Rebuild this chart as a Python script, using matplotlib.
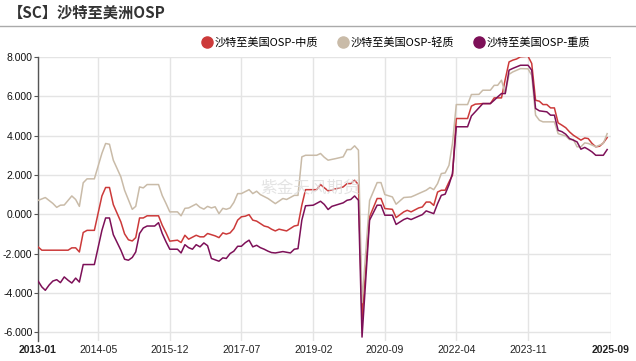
import pandas as pd
import numpy as np
import matplotlib
matplotlib.use('Agg')
import matplotlib.pyplot as plt
from matplotlib.lines import Line2D

plt.rcParams['font.family'] = ['Liberation Sans', 'Noto Sans CJK SC', 'DejaVu Sans']

# 沙特至美国OSP-轻质
light_dates = ['2013-01', '2013-03', '2013-05', '2013-06', '2013-07', '2013-08', '2013-10', '2013-11', '2013-12',
               '2014-01', '2014-02', '2014-04', '2014-06', '2014-07', '2014-08', '2014-09', '2014-11', '2014-12',
               '2015-02', '2015-03', '2015-04', '2015-05', '2015-06', '2015-09', '2015-10', '2015-11', '2015-12',
               '2016-02', '2016-03', '2016-04', '2016-05', '2016-07', '2016-08', '2016-09', '2016-10', '2016-11',
               '2016-12', '2017-01', '2017-02', '2017-03', '2017-04', '2017-05', '2017-06', '2017-07', '2017-09',
               '2017-10', '2017-11', '2017-12', '2018-02', '2018-04', '2018-06', '2018-07', '2018-09', '2018-10',
               '2018-11', '2018-12', '2019-03', '2019-04', '2019-05', '2019-06', '2019-08', '2019-10', '2019-11',
               '2019-12', '2020-01', '2020-02', '2020-03', '2020-05', '2020-07', '2020-08', '2020-09', '2020-11',
               '2020-12', '2021-02', '2021-04', '2021-05', '2021-06', '2021-08', '2021-09', '2021-10', '2021-11',
               '2021-12', '2022-01', '2022-02', '2022-03', '2022-04', '2022-07', '2022-08', '2022-10', '2022-11',
               '2023-01', '2023-02', '2023-03', '2023-04', '2023-05', '2023-06', '2023-07', '2023-09', '2023-11',
               '2023-12', '2024-01', '2024-02', '2024-03', '2024-06', '2024-07', '2024-09', '2024-10', '2024-11',
               '2024-12', '2025-01', '2025-02', '2025-03', '2025-04', '2025-05', '2025-07', '2025-08']
light_vals = [0.70, 0.85, 0.55, 0.35, 0.46, 0.47, 0.93, 0.75, 0.40,
              1.60, 1.80, 1.80, 3.10, 3.60, 3.56, 2.75, 1.90, 1.22,
              0.25, 0.40, 1.39, 1.34, 1.51, 1.51, 0.95, 0.54, 0.12,
              0.12, -0.08, 0.30, 0.32, 0.52, 0.35, 0.26, 0.40, 0.32,
              0.38, 0.03, 0.30, 0.25, 0.32, 0.60, 1.05, 1.05, 1.25,
              1.05, 1.17, 1.00, 0.80, 0.54, 0.80, 0.75, 0.96, 0.96,
              2.92, 3.00, 3.00, 3.09, 2.90, 2.75, 2.83, 2.92, 3.29,
              3.29, 3.48, 3.26, -4.50, 0.70, 1.61, 1.61, 1.00, 0.88,
              0.51, 0.85, 0.88, 0.96, 1.05, 1.22, 1.36, 1.25, 1.56,
              2.07, 2.10, 2.49, 3.60, 5.58, 5.58, 6.09, 6.10, 6.31,
              6.31, 6.56, 6.56, 6.82, 6.14, 7.12, 7.24, 7.41, 7.40,
              7.07, 5.04, 4.78, 4.70, 4.70, 4.10, 3.98, 3.80, 3.80,
              3.43, 3.43, 3.63, 3.60, 3.52, 3.43, 3.60, 4.10]

# 沙特至美国OSP-中质
medium_dates = ['2013-01', '2013-02', '2013-09', '2013-10', '2013-11', '2013-12', '2014-01', '2014-02', '2014-04',
                '2014-06', '2014-07', '2014-08', '2014-09', '2014-11', '2014-12', '2015-01', '2015-02', '2015-03',
                '2015-04', '2015-05', '2015-06', '2015-09', '2015-10', '2015-11', '2015-12', '2016-02', '2016-03',
                '2016-04', '2016-05', '2016-07', '2016-08', '2016-09', '2016-10', '2016-12', '2017-01', '2017-02',
                '2017-03', '2017-04', '2017-05', '2017-06', '2017-07', '2017-08', '2017-09', '2017-10', '2017-11',
                '2018-01', '2018-02', '2018-03', '2018-04', '2018-05', '2018-07', '2018-09', '2018-10', '2018-11',
                '2018-12', '2019-03', '2019-04', '2019-05', '2019-06', '2019-08', '2019-10', '2019-11', '2019-12',
                '2020-01', '2020-02', '2020-03', '2020-05', '2020-07', '2020-08', '2020-09', '2020-11', '2020-12',
                '2021-02', '2021-03', '2021-04', '2021-06', '2021-07', '2021-08', '2021-09', '2021-10', '2021-11',
                '2021-12', '2022-01', '2022-02', '2022-03', '2022-04', '2022-07', '2022-08', '2022-09', '2022-11',
                '2023-01', '2023-02', '2023-04', '2023-05', '2023-06', '2023-07', '2023-08', '2023-09', '2023-11',
                '2023-12', '2024-01', '2024-02', '2024-03', '2024-04', '2024-05', '2024-06', '2024-07', '2024-08',
                '2024-09', '2024-10', '2024-11', '2024-12', '2025-01', '2025-02', '2025-03', '2025-04', '2025-05',
                '2025-06', '2025-07', '2025-08']
medium_vals = [-1.66, -1.83, -1.83, -1.71, -1.71, -1.92, -0.93, -0.82, -0.82,
               0.93, 1.36, 1.36, 0.49, -0.39, -1.00, -1.30, -1.36, -1.19,
               -0.19, -0.19, -0.08, -0.08, -0.56, -0.95, -1.37, -1.32, -1.44,
               -1.07, -1.27, -1.07, -1.15, -1.15, -0.98, -1.10, -1.19, -0.95,
               -1.01, -0.95, -0.73, -0.30, -0.13, -0.10, -0.02, -0.30, -0.35,
               -0.60, -0.65, -0.76, -0.85, -0.76, -0.85, -0.60, -0.56, 0.46,
               1.25, 1.25, 1.51, 1.35, 1.19, 1.29, 1.39, 1.56, 1.56,
               1.73, 1.51, -5.30, -0.13, 0.80, 0.80, 0.29, 0.25, -0.17,
               0.12, 0.20, 0.12, 0.32, 0.37, 0.62, 0.62, 0.45, 1.13,
               1.22, 1.22, 1.64, 1.98, 4.87, 4.87, 5.50, 5.60, 5.63,
               5.63, 5.92, 5.92, 6.86, 7.75, 7.84, 7.90, 8.01, 8.04,
               7.67, 5.80, 5.75, 5.58, 5.58, 5.41, 5.41, 4.65, 4.53,
               4.40, 4.19, 4.02, 3.90, 3.77, 3.88, 3.85, 3.60, 3.43,
               3.46, 3.63, 3.90]

# 沙特至美国OSP-重质
heavy_dates = ['2013-01', '2013-02', '2013-03', '2013-04', '2013-05', '2013-06', '2013-07', '2013-08', '2013-09',
               '2013-10', '2013-11', '2013-12', '2014-01', '2014-04', '2014-06', '2014-07', '2014-08', '2014-09',
               '2014-11', '2014-12', '2015-01', '2015-02', '2015-03', '2015-04', '2015-05', '2015-06', '2015-08',
               '2015-09', '2015-10', '2015-11', '2015-12', '2016-02', '2016-03', '2016-04', '2016-05', '2016-06',
               '2016-07', '2016-08', '2016-09', '2016-10', '2016-11', '2016-12', '2017-01', '2017-02', '2017-03',
               '2017-04', '2017-05', '2017-06', '2017-07', '2017-08', '2017-09', '2017-10', '2017-11', '2017-12',
               '2018-01', '2018-02', '2018-03', '2018-04', '2018-06', '2018-08', '2018-09', '2018-10', '2018-11',
               '2018-12', '2019-02', '2019-04', '2019-05', '2019-06', '2019-07', '2019-08', '2019-10', '2019-11',
               '2019-12', '2020-01', '2020-02', '2020-03', '2020-05', '2020-07', '2020-08', '2020-09', '2020-11',
               '2020-12', '2021-02', '2021-03', '2021-04', '2021-06', '2021-07', '2021-08', '2021-10', '2021-11',
               '2021-12', '2022-01', '2022-02', '2022-03', '2022-04', '2022-07', '2022-08', '2022-09', '2022-11',
               '2023-01', '2023-02', '2023-03', '2023-04', '2023-05', '2023-06', '2023-07', '2023-09', '2023-11',
               '2023-12', '2024-01', '2024-02', '2024-04', '2024-05', '2024-06', '2024-07', '2024-08', '2024-09',
               '2024-10', '2024-11', '2024-12', '2025-01', '2025-02', '2025-03', '2025-04', '2025-05', '2025-07',
               '2025-08']
heavy_vals = [-3.39, -3.70, -3.87, -3.60, -3.40, -3.33, -3.48, -3.19, -3.36,
              -3.50, -3.25, -3.45, -2.56, -2.56, -0.82, -0.19, -0.19, -1.04,
              -1.83, -2.29, -2.34, -2.20, -1.92, -0.98, -0.70, -0.60, -0.60,
              -0.43, -0.98, -1.41, -1.78, -1.78, -1.97, -1.55, -1.70, -1.78,
              -1.55, -1.66, -1.46, -1.60, -2.25, -2.32, -2.39, -2.22, -2.25,
              -2.00, -1.88, -1.63, -1.63, -1.45, -1.32, -1.66, -1.58, -1.70,
              -1.78, -1.88, -1.95, -1.97, -1.90, -1.97, -1.78, -1.75, -0.30,
              0.43, 0.46, 0.66, 0.50, 0.24, 0.40, 0.46, 0.58, 0.71,
              0.75, 0.93, 0.71, -6.25, -0.30, 0.46, 0.46, -0.05, -0.05,
              -0.52, -0.27, -0.20, -0.27, -0.10, -0.02, 0.17, 0.03, 0.54,
              0.96, 1.02, 1.50, 2.07, 4.45, 4.45, 5.00, 5.21, 5.63,
              5.63, 5.80, 5.97, 6.14, 6.14, 7.33, 7.42, 7.58, 7.58,
              7.33, 5.38, 5.26, 5.21, 5.04, 5.04, 4.27, 4.20, 4.07,
              3.85, 3.77, 3.68, 3.31, 3.40, 3.30, 3.17, 3.00, 3.00,
              3.29]

tick_labels = ['2013-01', '2014-05', '2015-12', '2017-07', '2019-02', '2020-09', '2022-04', '2023-11', '2025-09']
y_ticks = [-6, -4, -2, 0, 2, 4, 6, 8]

names = ['沙特至美国OSP-中质', '沙特至美国OSP-轻质', '沙特至美国OSP-重质']
colors = ['#cc3a3a', '#c9bba8', '#7d1058']

fig = plt.figure(figsize=(6.36, 3.61), dpi=100)
ax = fig.add_axes([38 / 636, 1 - 341 / 361, (611 - 38) / 636, (341 - 57) / 361])

series = [(medium_dates, medium_vals), (light_dates, light_vals), (heavy_dates, heavy_vals)]
order = [1, 0, 2]
for i in order:
    d, v = series[i]
    ax.plot(pd.to_datetime(d), v, color=colors[i], lw=1.1, zorder=3 + i)

ax.set_xlim(pd.Timestamp('2013-01-01'), pd.Timestamp('2025-09-01'))
ax.set_ylim(-6.45, 8.0)
ax.set_yticks(y_ticks)
ax.set_yticklabels(['%.3f' % t for t in y_ticks], fontsize=7.5, color='#111111')
ax.set_xticks(pd.to_datetime(tick_labels))
ax.set_xticklabels(tick_labels, fontsize=7.5, color='#222222')
for k, lab in enumerate(ax.get_xticklabels()):
    if k == 0 or k == len(tick_labels) - 1:
        lab.set_fontweight('bold')
ax.tick_params(axis='x', length=0, pad=3)
ax.tick_params(axis='y', length=3, width=0.8, pad=1, color='#555555')

ax.grid(True, color='#e4e4e4', lw=1.0)
ax.set_axisbelow(True)
for s in ['top', 'right', 'bottom']:
    ax.spines[s].set_visible(False)
ax.spines['left'].set_color('#555555')
ax.spines['left'].set_linewidth(1.0)

# 标题
fig.text(8 / 636, 1 - 13 / 361, '【SC】沙特至美洲OSP', fontsize=11, fontweight='bold',
         color='#333333', va='center', ha='left', family=['Noto Sans CJK SC', 'DejaVu Sans'])
fig.add_artist(Line2D([0, 1], [1 - 26 / 361, 1 - 26 / 361], color='#aaaaaa', lw=1.0))

# 图例
handles = [Line2D([], [], marker='o', ls='', markersize=8, color=c) for c in colors]
leg = fig.legend(handles, names, loc='center right', bbox_to_anchor=(590 / 636, 1 - 42 / 361), ncol=3,
                 frameon=False, handletextpad=0.2, columnspacing=1.7, handlelength=1.0,
                 borderpad=0, borderaxespad=0,
                 prop={'family': ['Noto Sans CJK SC', 'DejaVu Sans'], 'size': 8})

# 水印
fig.text(310 / 636, 1 - 188 / 361, '紫金天风期货', fontsize=12, color='#dddddd', alpha=0.8,
         ha='center', va='center', family=['Noto Sans CJK SC', 'DejaVu Sans'], zorder=0)

fig.savefig('out.png', dpi=100)
